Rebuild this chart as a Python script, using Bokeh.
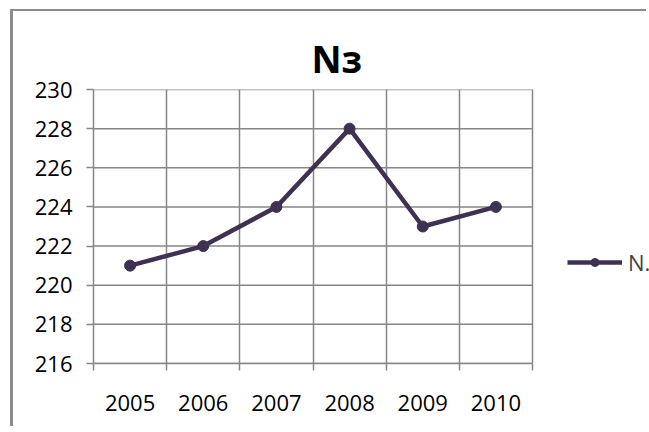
from bokeh.plotting import figure
from bokeh.models import FixedTicker, Legend, LegendItem
from bokeh.embed import file_html
from bokeh.resources import INLINE

# ---- data ----
years = ["2005", "2006", "2007", "2008", "2009", "2010"]
values = [221, 222, 224, 228, 223, 224]
y_ticks = [216, 218, 220, 222, 224, 226, 228, 230]
series_name = "N."
title_text = "Nз"

xs = [i + 0.5 for i in range(len(years))]
boundaries = list(range(len(years) + 1))

GRID = "#868686"
LINE = "#3F3151"
FONT = "Open Sans"

# layout (pixels): plot area 439 px wide inside a frame that runs to the right edge
FRAME_PX = 556
PLOT_PX = 439
x_end = len(years) * FRAME_PX / PLOT_PX

p = figure(width=636, height=417, output_backend="svg", toolbar_location=None,
           x_range=(0, x_end), y_range=(y_ticks[0], y_ticks[-1]),
           min_border_left=80, min_border_right=0, min_border_top=78, min_border_bottom=65)

# chart-area border (left and top edges visible)
p.styles = {"margin-left": "10px", "margin-top": "9px",
            "border-left": "3px solid #8c8c8c", "border-top": "2px solid #8c8c8c"}

p.title.text = title_text
p.title.text_font = FONT
p.title.text_font_style = "bold"
p.title.text_font_size = "37px"
p.title.align = "left"
p.title.offset = 218
p.title.standoff = 11
p.title.text_color = "black"

# x axis
p.xaxis.ticker = FixedTicker(ticks=xs, minor_ticks=boundaries)
p.xaxis.major_label_overrides = {x: y for x, y in zip(xs, years)}
p.xaxis.bounds = (0, len(years))
p.xaxis.major_tick_line_color = None
p.xaxis.minor_tick_line_color = GRID
p.xaxis.minor_tick_line_width = 1.5
p.xaxis.minor_tick_out = 7
p.xaxis.minor_tick_in = 0
p.xaxis.major_label_standoff = 24

p.xgrid.ticker = FixedTicker(ticks=boundaries)
p.xgrid.grid_line_color = GRID
p.xgrid.grid_line_width = 1.5
p.ygrid.grid_line_color = None

# horizontal gridlines limited to the plot area
p.segment(x0=[0] * len(y_ticks), x1=[len(years)] * len(y_ticks), y0=y_ticks, y1=y_ticks,
          line_color=GRID, line_width=1.5)

# y axis
p.yaxis.ticker = FixedTicker(ticks=y_ticks)
p.yaxis.minor_tick_line_color = None
p.yaxis.major_tick_line_color = GRID
p.yaxis.major_tick_line_width = 1.5
p.yaxis.major_tick_out = 7
p.yaxis.major_tick_in = 0
p.yaxis.major_label_standoff = 14

for ax in (p.xaxis, p.yaxis):
    ax.axis_line_color = GRID
    ax.axis_line_width = 1.5
    ax.major_label_text_font = FONT
    ax.major_label_text_font_size = "22px"
    ax.major_label_text_color = "black"

p.outline_line_color = None

ln = p.line(xs, values, line_color=LINE, line_width=4.5)
sc = p.scatter(xs, values, size=11, fill_color=LINE, line_color=LINE)

legend = Legend(items=[LegendItem(label=series_name, renderers=[ln, sc])],
                location=(474, 86), glyph_width=55, glyph_height=20,
                label_standoff=6, padding=0, margin=0,
                border_line_color=None, background_fill_alpha=0,
                label_text_font=FONT, label_text_font_size="22px")
p.add_layout(legend, "center")

open("out.html", "w").write(file_html(p, INLINE))
